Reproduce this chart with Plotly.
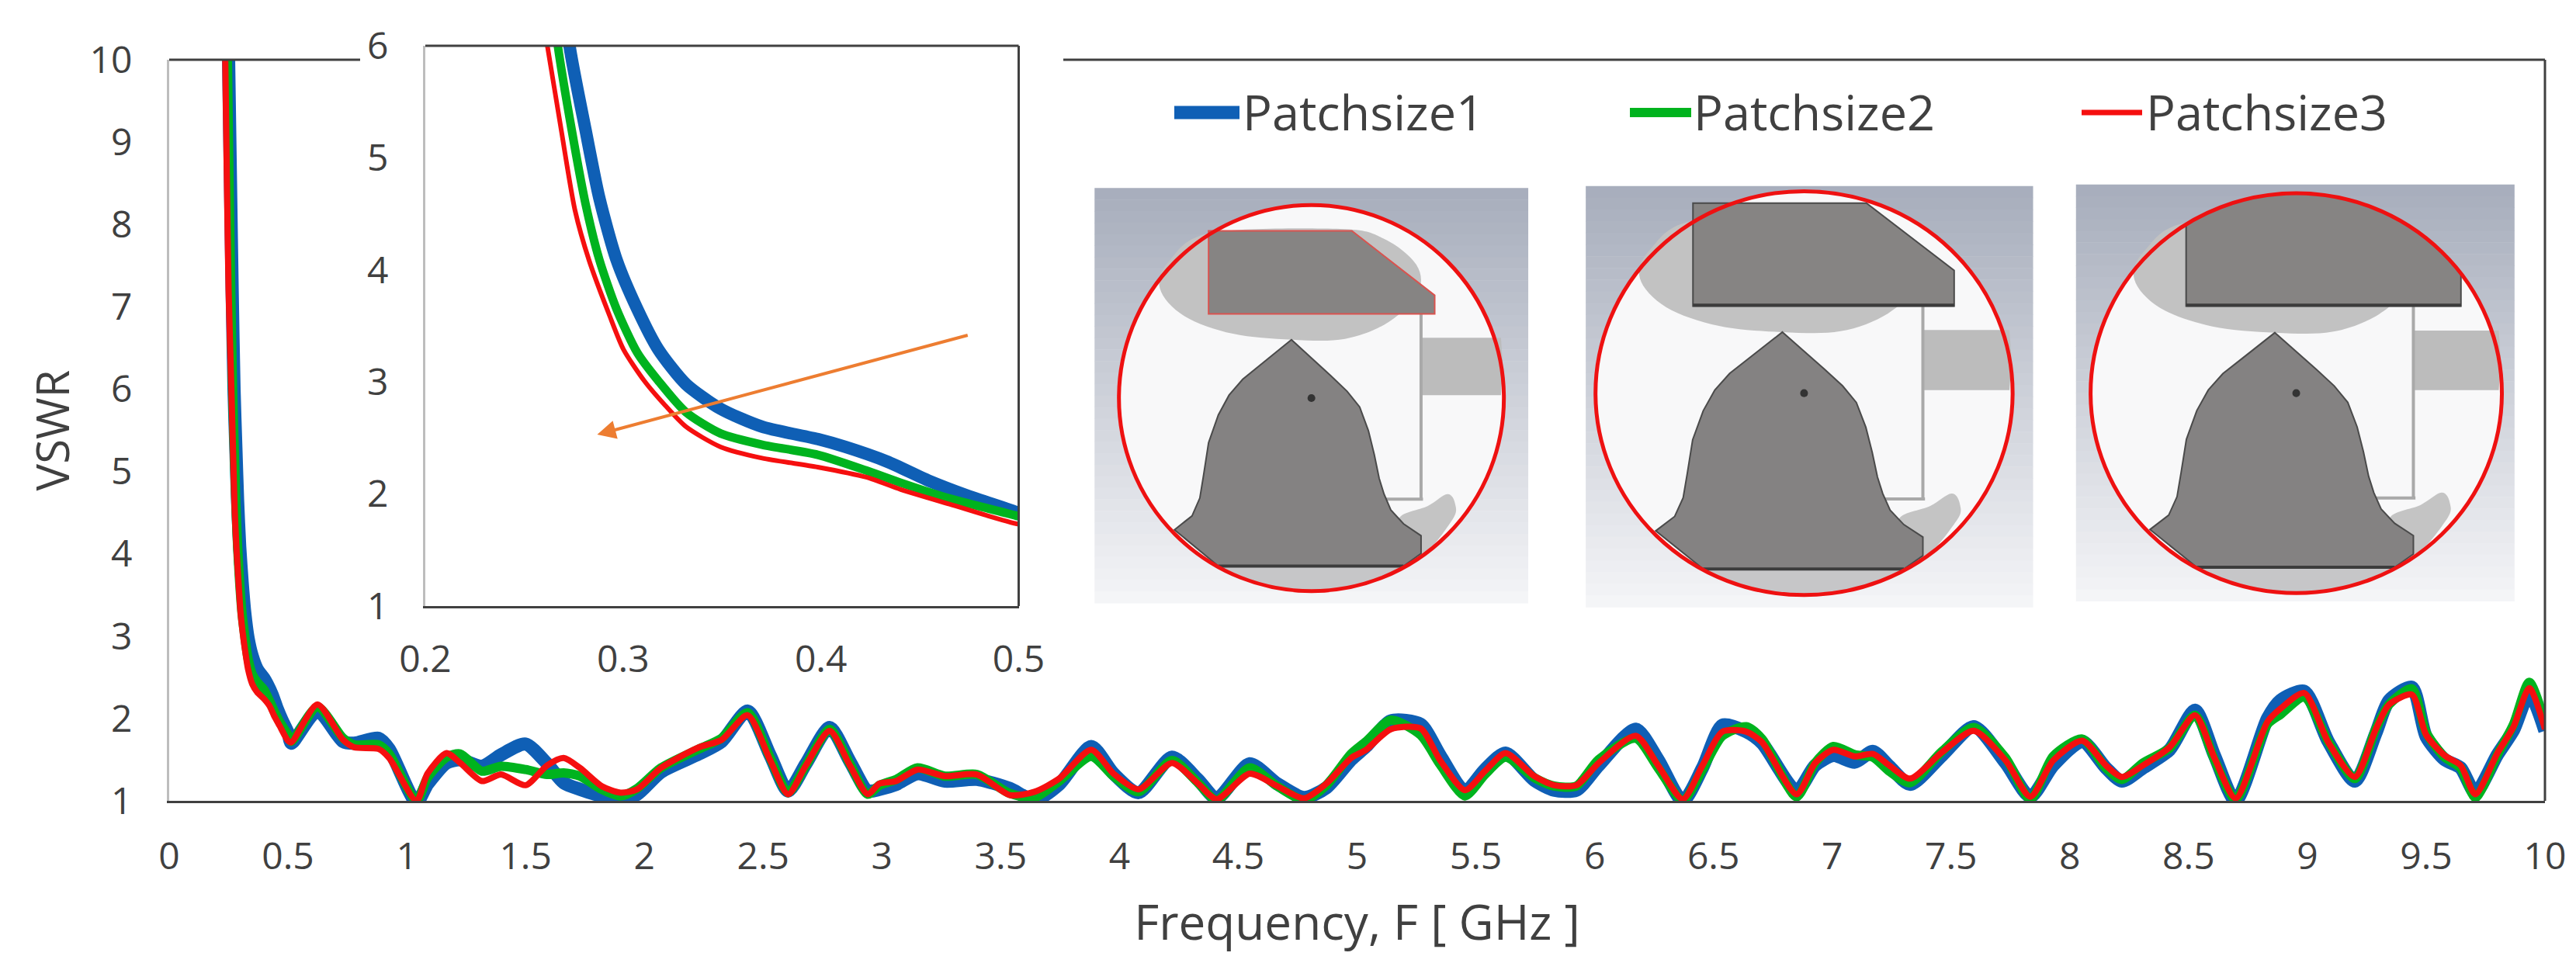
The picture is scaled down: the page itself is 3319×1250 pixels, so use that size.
import math
import plotly.graph_objects as go

# ---------- data ----------
series_names = ["Patchsize1", "Patchsize2", "Patchsize3"]
low_freq_1 = [0.25, 0.258, 0.265, 0.2729, 0.281, 0.288, 0.2967, 0.3072, 0.3178, 0.3318, 0.3493, 0.3703, 0.3984, 0.4124, 0.4334, 0.4544, 0.475, 0.5]
low_vswr_1 = [10, 8.5, 7.2, 6, 5.25, 4.64, 4.09, 3.65, 3.29, 2.98, 2.76, 2.60, 2.49, 2.42, 2.29, 2.12, 1.98, 1.83]
low_freq_2 = [0.245, 0.252, 0.259, 0.267, 0.274, 0.281, 0.288, 0.2967, 0.3072, 0.3178, 0.3318, 0.3493, 0.3703, 0.3984, 0.4229, 0.4404, 0.465, 0.5]
low_vswr_2 = [10, 8.5, 7.2, 6, 5.25, 4.59, 4.09, 3.65, 3.26, 3.01, 2.73, 2.54, 2.44, 2.35, 2.21, 2.10, 1.96, 1.80]
low_freq_3 = [0.236, 0.243, 0.25, 0.2617, 0.2687, 0.2757, 0.2827, 0.2932, 0.3002, 0.3107, 0.3213, 0.3318, 0.3493, 0.3703, 0.3984, 0.4229, 0.4404, 0.465, 0.5]
low_vswr_3 = [10, 8.5, 7.2, 6, 5.25, 4.53, 4.09, 3.59, 3.29, 3.01, 2.79, 2.60, 2.42, 2.32, 2.24, 2.15, 2.04, 1.91, 1.73]

freq = [0.514, 0.624, 0.732, 0.778, 0.881, 0.926, 1.041, 1.087, 1.167, 1.225, 1.316, 1.397, 1.5, 1.591, 1.66, 1.729, 1.82, 1.9, 1.97, 2.07,
        2.23, 2.325, 2.435, 2.53, 2.605, 2.68, 2.78, 2.865, 2.94, 2.99, 3.06, 3.15, 3.265, 3.40, 3.538, 3.642, 3.746, 3.881, 3.975, 4.08,
        4.221, 4.33, 4.409, 4.548, 4.663, 4.777, 4.871, 4.975, 5.038, 5.142, 5.267, 5.35, 5.454, 5.538, 5.625, 5.746, 5.829, 5.923, 6.017, 6.173,
        6.267, 6.371, 6.454, 6.538, 6.638, 6.705, 6.85, 6.928, 7.005, 7.095, 7.172, 7.24, 7.328, 7.462, 7.596, 7.73, 7.834, 7.93, 8.052, 8.152,
        8.219, 8.308, 8.42, 8.527, 8.609, 8.698, 8.832, 8.887, 8.987, 9.088, 9.2, 9.288, 9.344, 9.44, 9.5, 9.578, 9.645, 9.707, 9.8, 9.868, 9.934, 10.0]
vswr_1 = [1.70, 2.09, 1.72, 1.70, 1.76, 1.63, 0.98, 1.20, 1.46, 1.50, 1.42, 1.56, 1.69, 1.45, 1.22, 1.14, 1.06, 1.02, 1.08, 1.35,
          1.57, 1.72, 2.09, 1.55, 1.12, 1.45, 1.89, 1.48, 1.12, 1.14, 1.20, 1.33, 1.24, 1.26, 1.15, 1.01, 1.20, 1.66, 1.33, 1.10,
          1.53, 1.26, 1.03, 1.45, 1.21, 1.04, 1.16, 1.50, 1.66, 1.97, 1.93, 1.55, 1.12, 1.38, 1.58, 1.25, 1.13, 1.13, 1.43, 1.87,
          1.50, 1.00, 1.40, 1.92, 1.84, 1.70, 1.12, 1.43, 1.55, 1.47, 1.60, 1.42, 1.20, 1.55, 1.90, 1.46, 1.05, 1.43, 1.72, 1.40,
          1.24, 1.40, 1.62, 2.10, 1.55, 1.00, 2.00, 2.22, 2.33, 1.72, 1.24, 1.82, 2.22, 2.38, 1.78, 1.50, 1.40, 1.10, 1.56, 1.86, 2.30, 1.85]
vswr_2 = [1.72, 2.14, 1.76, 1.68, 1.68, 1.57, 1.00, 1.28, 1.53, 1.57, 1.36, 1.42, 1.38, 1.32, 1.34, 1.30, 1.14, 1.06, 1.15, 1.40,
          1.63, 1.76, 2.07, 1.52, 1.10, 1.43, 1.87, 1.45, 1.08, 1.19, 1.26, 1.40, 1.30, 1.32, 1.09, 1.04, 1.24, 1.54, 1.30, 1.11,
          1.49, 1.22, 1.01, 1.40, 1.18, 1.01, 1.19, 1.57, 1.72, 1.98, 1.80, 1.44, 1.06, 1.32, 1.53, 1.28, 1.18, 1.18, 1.50, 1.76,
          1.40, 1.01, 1.38, 1.79, 1.90, 1.75, 1.05, 1.46, 1.66, 1.56, 1.53, 1.36, 1.22, 1.60, 1.89, 1.52, 1.02, 1.54, 1.75, 1.40,
          1.26, 1.46, 1.64, 2.04, 1.50, 1.02, 1.93, 2.05, 2.26, 1.72, 1.27, 1.87, 2.17, 2.36, 1.83, 1.53, 1.40, 1.04, 1.56, 1.93, 2.44, 1.95]
vswr_3 = [1.71, 2.17, 1.74, 1.65, 1.63, 1.52, 1.00, 1.33, 1.58, 1.46, 1.24, 1.32, 1.19, 1.43, 1.52, 1.40, 1.18, 1.10, 1.14, 1.40,
          1.65, 1.74, 2.04, 1.49, 1.08, 1.43, 1.85, 1.43, 1.08, 1.21, 1.24, 1.38, 1.30, 1.32, 1.07, 1.11, 1.27, 1.62, 1.33, 1.14,
          1.46, 1.21, 1.02, 1.33, 1.18, 1.03, 1.21, 1.52, 1.62, 1.87, 1.88, 1.49, 1.13, 1.36, 1.58, 1.30, 1.19, 1.19, 1.46, 1.79,
          1.43, 1.02, 1.43, 1.84, 1.84, 1.71, 1.08, 1.46, 1.62, 1.54, 1.57, 1.43, 1.27, 1.59, 1.85, 1.49, 1.05, 1.49, 1.73, 1.43,
          1.29, 1.43, 1.65, 2.04, 1.52, 1.03, 1.96, 2.12, 2.31, 1.71, 1.29, 1.87, 2.17, 2.29, 1.80, 1.55, 1.43, 1.08, 1.58, 1.90, 2.37, 1.87]
assert len(freq) == len(vswr_1) == len(vswr_2) == len(vswr_3)

main_x_ticks = [0, 0.5, 1, 1.5, 2, 2.5, 3, 3.5, 4, 4.5, 5, 5.5, 6, 6.5, 7, 7.5, 8, 8.5, 9, 9.5, 10]
main_y_ticks = [1, 2, 3, 4, 5, 6, 7, 8, 9, 10]
inset_x_ticks = [0.2, 0.3, 0.4, 0.5]
inset_y_ticks = [1, 2, 3, 4, 5, 6]

# ---------- layout constants ----------
W, H = 3319, 1250
BLUE, GREEN, RED = "#0f5fb5", "#00b31e", "#f50f0f"
TEXT, DARK, GREY = "#404040", "#404040", "#bdbdbd"
FONT = "Open Sans"
M_L, M_R, M_T, M_B = 218, 3279, 77, 1032
I_L, I_R, I_T, I_B = 548, 1312.5, 59, 781


def px(x):
    return x / W


def py(y):
    return 1 - y / H


fig = go.Figure()
styles = [(BLUE, 17, 16), (GREEN, 12, 11), (RED, 8, 6)]
lows = [(low_freq_1, low_vswr_1), (low_freq_2, low_vswr_2), (low_freq_3, low_vswr_3)]
highs = [vswr_1, vswr_2, vswr_3]
for name, (lx, ly), hy, (c, wm, wi) in zip(series_names, lows, highs, styles):
    fig.add_trace(go.Scatter(x=lx + freq, y=ly + hy, mode="lines", name=name, showlegend=False,
                             line=dict(color=c, width=wm, shape="spline", smoothing=0.7), xaxis="x", yaxis="y"))
for name, (lx, ly), hy, (c, wm, wi) in zip(series_names, lows, highs, styles):
    fig.add_trace(go.Scatter(x=lx + freq[:1], y=ly + hy[:1], mode="lines", name=name, showlegend=False,
                             line=dict(color=c, width=wi, shape="spline", smoothing=0.7), xaxis="x2", yaxis="y2"))

shapes = []


def line_px(x0, y0, x1, y1, color, width):
    shapes.append(dict(type="line", xref="paper", yref="paper", x0=px(x0), y0=py(y0), x1=px(x1), y1=py(y1),
                       line=dict(color=color, width=width), layer="above"))


# frames the axis lines do not cover
line_px(M_L, M_T, 464, M_T, DARK, 3)
line_px(1370, M_T, M_R, M_T, DARK, 3)
line_px(M_R, M_T, M_R, M_B, DARK, 3)
line_px(I_L, I_T, I_R, I_T, DARK, 3)
line_px(I_R, I_T, I_R, I_B, DARK, 3)

# ---------- antenna pictures ----------
ZX, ZY = 1.2557, 0.5102


def zx(v):
    return 1350 + v * ZX


def zy(v):
    return 50 + v * ZY


def poly(points, fill, line_color=None, line_width=0, smooth=False):
    pts = [(px(zx(a)), py(zy(b))) for a, b in points]
    if smooth:
        n = len(pts)
        d = f"M{pts[0][0]:.5f},{pts[0][1]:.5f}"
        for i in range(n):
            p0, p1, p2, p3 = pts[i - 1], pts[i], pts[(i + 1) % n], pts[(i + 2) % n]
            c1 = (p1[0] + (p2[0] - p0[0]) / 6, p1[1] + (p2[1] - p0[1]) / 6)
            c2 = (p2[0] - (p3[0] - p1[0]) / 6, p2[1] - (p3[1] - p1[1]) / 6)
            d += f"C{c1[0]:.5f},{c1[1]:.5f} {c2[0]:.5f},{c2[1]:.5f} {p2[0]:.5f},{p2[1]:.5f}"
        d += "Z"
    else:
        d = "M" + "L".join(f"{a:.5f},{b:.5f}" for a, b in pts) + "Z"
    shapes.append(dict(type="path", path=d, xref="paper", yref="paper", fillcolor=fill,
                       line=dict(color=line_color or "rgba(0,0,0,0)", width=line_width), layer="above"))


def ell(cx, cy, rx, ry, fill, line_color=None, line_width=0):
    shapes.append(dict(type="circle", xref="paper", yref="paper", x0=px(zx(cx - rx)), x1=px(zx(cx + rx)),
                       y0=py(zy(cy - ry)), y1=py(zy(cy + ry)), fillcolor=fill,
                       line=dict(color=line_color or "rgba(0,0,0,0)", width=line_width), layer="above"))


BACK = [(48, 377, 493, 1425), (552, 372, 1011, 1435), (1055, 368, 1505, 1420)]
CIRC = [(270.5, 907.5, 197.5, 487.5), (776, 895, 214, 510), (1281, 895, 211, 505)]
BELL = [(250, 760), (270, 805), (290, 850), (307, 890), (320, 930), (329, 990), (335, 1050), (340, 1110), (345, 1150), (352, 1190), (365, 1225),
        (383, 1255), (383, 1300), (365, 1332), (175, 1332), (130, 1240), (148, 1205), (156, 1160), (160, 1100), (165, 1020), (175, 950), (186, 900), (200, 860), (225, 810)]
BLOB = [(168, 490), (125, 560), (115, 630), (140, 700), (190, 745), (250, 760), (305, 758), (350, 715), (380, 640), (378, 570), (345, 505), (300, 480)]
TAIL = [(360, 1215), (390, 1180), (410, 1150), (418, 1175), (415, 1215), (383, 1300)]

for k, ((bx0, by0, bx1, by1), (cx, cy, rx, ry)) in enumerate(zip(BACK, CIRC)):
    sx, sy = rx / 197.5, ry / 487.5

    def T(a, b):
        return (cx + (a - 270.5) * sx, cy + (b - 907.5) * sy)

    n = 36
    for i in range(n):
        t = i / (n - 1)
        col = (int(168 + 76 * t), int(174 + 71 * t), int(189 + 58 * t))
        y0 = by0 + (by1 - by0) * i / n
        y1 = by0 + (by1 - by0) * (i + 1) / n + 1
        shapes.append(dict(type="rect", xref="paper", yref="paper", x0=px(zx(bx0)), x1=px(zx(bx1)),
                           y0=py(zy(y0)), y1=py(zy(y1)), fillcolor=f"rgb{col}", line=dict(width=0), layer="above"))
    ell(cx, cy, rx, ry, "#f8f8f9")
    poly([T(*p) for p in TAIL], "#c4c4c4", smooth=True)
    poly([T(383, 755), T(465, 755), T(467, 830), T(465, 900), T(383, 900)], "#bcbcbc")
    shapes_line = "#a9a9a9"
    line_px(zx(T(383, 690)[0]), zy(T(383, 690)[1]), zx(T(383, 1165)[0]), zy(T(383, 1165)[1]), shapes_line, 4)
    line_px(zx(T(345, 1163)[0]), zy(T(345, 1163)[1]), zx(T(385, 1163)[0]), zy(T(385, 1163)[1]), shapes_line, 4)
    # lower segment of the disc
    dy = (T(0, 1332)[1] - cy) / ry
    a0 = math.acos(dy)
    arc = [(cx + rx * math.sin(a0 - 2 * a0 * j / 20), cy + ry * math.cos(a0 - 2 * a0 * j / 20)) for j in range(21)]
    poly(arc, "#c6c6c8")
    poly([T(*p) for p in BLOB], "#c2c2c2", smooth=True)
    if k == 0:
        poly([(165, 485), (312, 485), (397, 648), (397, 695), (165, 695)], "#868483", "#d9534f", 2)
    elif k == 1:
        poly([(662, 415), (840, 415), (930, 585), (930, 675), (662, 675)], "#868483", "#4a4a4a", 2)
        line_px(zx(662), zy(673), zx(930), zy(673), "#3c3c3c", 4)
    else:
        x_a, x_b = 1168, 1450
        a_a = math.asin((x_a - cx) / rx)
        a_b = math.asin((x_b - cx) / rx)
        top = [(cx + rx * math.sin(a_a + (a_b - a_a) * j / 24), cy - ry * math.cos(a_a + (a_b - a_a) * j / 24)) for j in range(25)]
        poly(top + [(x_b, 675), (x_a, 675)], "#868483", "#4a4a4a", 2)
        line_px(zx(x_a), zy(673), zx(x_b), zy(673), "#3c3c3c", 4)
    poly([T(*p) for p in BELL], "#848282", "#4a4a4a", 2)
    line_px(zx(T(175, 1332)[0]), zy(T(175, 1332)[1]), zx(T(365, 1332)[0]), zy(T(365, 1332)[1]), "#3c3c3c", 4)
    dot = T(270.5, 907.5)
    ell(dot[0], dot[1], 4, 10, "#333333")
    ell(cx, cy, rx, ry, "rgba(0,0,0,0)", "#ee1111", 5)

# ---------- legend ----------
annotations = []
legend_specs = [(1513, 1597, 1599, BLUE, 17), (2100, 2179, 2180, GREEN, 12), (2682, 2760, 2763, RED, 7)]
for name, (l0, l1, tx, c, w) in zip(series_names, legend_specs):
    line_px(l0, 145, l1, 145, c, w)
    annotations.append(dict(text=name, xref="paper", yref="paper", x=px(tx), y=py(144), xanchor="left", yanchor="middle",
                            showarrow=False, font=dict(family=FONT, size=63, color=TEXT)))

# trend arrow inside the inset
annotations.append(dict(xref="x2", yref="y2", axref="x2", ayref="y2", x=0.2869, y=2.53, ax=0.4748, ay=3.42, text="",
                        showarrow=True, arrowhead=2, arrowsize=1.2, arrowwidth=4, arrowcolor="#ed7d31"))

axis_common = dict(showgrid=False, zeroline=False, automargin=False, ticks="outside", tickcolor="rgba(0,0,0,0)",
                   tickfont=dict(family=FONT, size=48, color=TEXT))
fig.update_layout(
    width=W, height=H, autosize=False, showlegend=False,
    margin=dict(l=0, r=0, t=0, b=0, pad=0),
    paper_bgcolor="white", plot_bgcolor="rgba(0,0,0,0)",
    font=dict(family=FONT, color=TEXT),
    shapes=shapes, annotations=annotations,
    xaxis=dict(domain=[px(M_L), px(M_R)], range=[0, 10], tickvals=main_x_ticks, ticktext=[str(v) for v in main_x_ticks],
               showline=True, linecolor=DARK, linewidth=3, ticklen=27, anchor="y",
               title=dict(text="Frequency, F [ GHz ]", font=dict(family=FONT, size=62, color=TEXT), standoff=36), **axis_common),
    yaxis=dict(domain=[py(M_B), py(M_T)], range=[1, 10], tickvals=main_y_ticks, ticktext=[str(v) for v in main_y_ticks],
               showline=True, linecolor=GREY, linewidth=3, ticklen=35, anchor="x",
               title=dict(text="VSWR", font=dict(family=FONT, size=58, color=TEXT), standoff=8), **axis_common),
    xaxis2=dict(domain=[px(I_L), px(I_R)], range=[0.2, 0.5], tickvals=inset_x_ticks, ticktext=[f"{v:.1f}" for v in inset_x_ticks],
                showline=True, linecolor=DARK, linewidth=3, ticklen=24, anchor="y2", **axis_common),
    yaxis2=dict(domain=[py(I_B), py(I_T)], range=[1, 6], tickvals=inset_y_ticks, ticktext=[str(v) for v in inset_y_ticks],
                showline=True, linecolor=GREY, linewidth=3, ticklen=35, anchor="x2", **axis_common),
)
fig.write_html("out.html", config={"displayModeBar": False}, post_script="document.body.style.margin='0';")
